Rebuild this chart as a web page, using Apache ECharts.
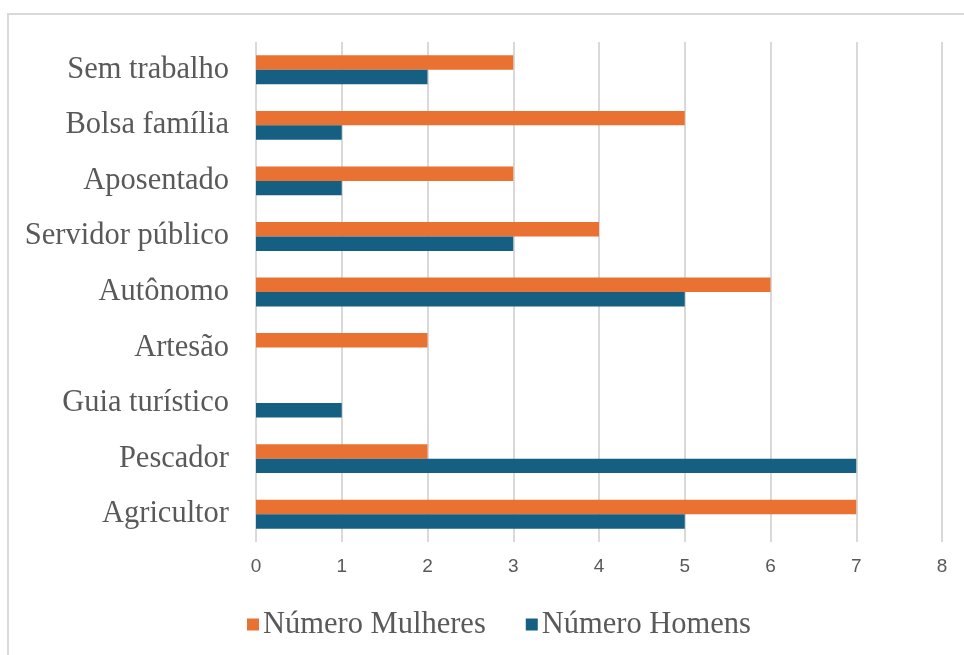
<!DOCTYPE html>
<html>
<head>
<meta charset="utf-8">
<style>html,body{margin:0;padding:0;background:#fff;}#c{width:964px;height:655px;}</style>
<script src="https://cdn.jsdelivr.net/npm/echarts@6/dist/echarts.min.js"></script>
</head>
<body>
<div id="c"></div>
<script>
const categories = ['Agricultor', 'Pescador', 'Guia turístico', 'Artesão', 'Autônomo', 'Servidor público', 'Aposentado', 'Bolsa família', 'Sem trabalho'];
const mulheres = [7, 2, 0, 2, 6, 4, 3, 5, 3];
const homens = [5, 7, 1, 0, 5, 3, 1, 1, 2];
const xTicks = [0, 1, 2, 3, 4, 5, 6, 7, 8];

const chart = echarts.init(document.getElementById('c'), null, {renderer: 'canvas'});
chart.setOption({
  backgroundColor: '#fff',
  animation: false,
  graphic: [{
    type: 'rect',
    shape: {x: 8, y: 14, width: 1000, height: 700},
    style: {fill: 'none', stroke: '#d9d9d9', lineWidth: 2},
    silent: true
  }],
  grid: {left: 256, right: 22, top: 42, bottom: 113, containLabel: false},
  xAxis: {
    type: 'value',
    min: xTicks[0],
    max: xTicks[xTicks.length - 1],
    interval: 1,
    axisLine: {show: false},
    axisTick: {show: false},
    splitLine: {show: true, lineStyle: {color: '#d9d9d9', width: 2}},
    axisLabel: {color: '#595959', fontSize: 19, fontFamily: 'Liberation Sans, Arial, sans-serif', margin: 15}
  },
  yAxis: {
    type: 'category',
    data: categories,
    axisLine: {show: false},
    axisTick: {show: false},
    axisLabel: {color: '#595959', fontSize: 30.5, fontFamily: 'Liberation Serif, Times New Roman, serif', margin: 27}
  },
  legend: {
    data: ['Número Mulheres', 'Número Homens'],
    left: 242,
    top: 604,
    itemWidth: 12,
    itemHeight: 12,
    itemGap: 40,
    icon: 'rect',
    textStyle: {color: '#595959', fontSize: 30.5, fontFamily: 'Liberation Serif, Times New Roman, serif', padding: [0, 0, 0, -1]}
  },
  series: [
    {
      name: 'Número Mulheres',
      type: 'bar',
      data: mulheres,
      barGap: '0%',
      barCategoryGap: '48%',
      itemStyle: {color: '#E97132'}
    },
    {
      name: 'Número Homens',
      type: 'bar',
      data: homens,
      barGap: '0%',
      barCategoryGap: '48%',
      itemStyle: {color: '#156082'}
    }
  ]
});
</script>
</body>
</html>
